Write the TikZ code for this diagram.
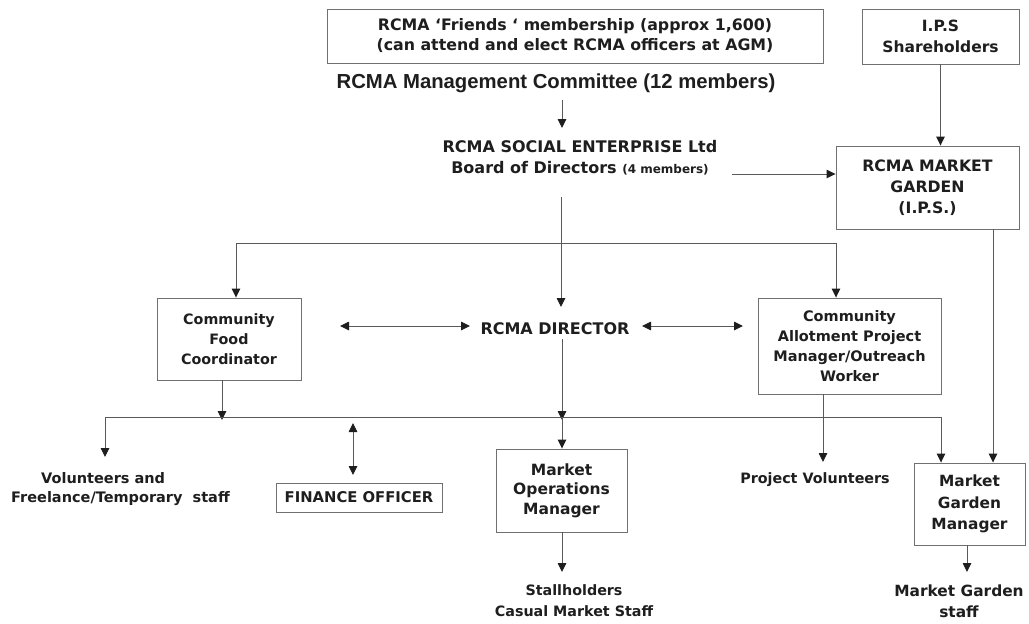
\documentclass[tikz,border=0pt]{standalone}
\usepackage{fontspec}
\setmainfont{DejaVu Sans}
\newfontfamily\arialfont{Liberation Sans}
\usetikzlibrary{arrows.meta,calc}
\definecolor{ln}{HTML}{5A5A5A}
\definecolor{bx}{HTML}{707070}
\definecolor{tx}{HTML}{1E1E1E}
\begin{document}
\begin{tikzpicture}[x=1pt,y=-1pt,
  box/.style={draw=bx,line width=0.9pt,align=center,inner sep=0pt,text=tx,font=\bfseries\fontsize{14.3}{20}\selectfont},
  lbl/.style={align=center,inner sep=0pt,text=tx,font=\bfseries\fontsize{14.3}{20}\selectfont},
  conn/.style={draw=ln,line width=0.9pt},
  tipA/.tip={Triangle[length=9pt,width=8.5pt,color=tx]},
  arr/.style={conn,-tipA},
  darr/.style={conn,tipA-tipA}]
\useasboundingbox[fill=white] (0,0) rectangle (1029,624);
% nodes
\node[box,minimum width=496pt,minimum height=54pt,font=\bfseries\fontsize{15.8}{20}\selectfont] (friends) at (575,36) {RCMA ‘Friends ‘ membership (approx 1,600)\\(can attend and elect RCMA officers at AGM)};
\node[box,minimum width=157pt,minimum height=55pt,font=\bfseries\fontsize{15.5}{21}\selectfont] (ips) at (940.5,36.5) {I.P.S\\Shareholders};
\node[lbl,font=\arialfont\bfseries\fontsize{20.3}{22}\selectfont] (mgmt) at (556,83) {RCMA Management Committee (12 members)};
\node[lbl,font=\bfseries\fontsize{16}{21}\selectfont] (board) at (580,157.5) {RCMA SOCIAL ENTERPRISE Ltd\\Board of Directors {\fontsize{12}{21}\selectfont (4 members)}};
\node[box,minimum width=183pt,minimum height=83pt,font=\bfseries\fontsize{15.7}{21}\selectfont] (mg) at (927.5,187.5) {RCMA MARKET\\GARDEN\\(I.P.S.)};
\node[box,minimum width=144pt,minimum height=82pt] (cfc) at (229,339) {Community\\Food\\Coordinator};
\node[lbl,font=\bfseries\fontsize{16}{20}\selectfont] (dir) at (555,329) {RCMA DIRECTOR};
\node[box,minimum width=183pt,minimum height=96pt,font=\bfseries\fontsize{14.5}{20}\selectfont] (cap) at (849.5,346) {Community\\Allotment Project\\Manager/Outreach\\Worker};
\node[lbl,align=left,anchor=west,font=\bfseries\fontsize{14.5}{19}\selectfont] (vol) at (11,489.5) {\hspace*{30pt}Volunteers and\\Freelance/Temporary\ \ staff};
\node[box,minimum width=166pt,minimum height=29pt,font=\bfseries\fontsize{14.8}{20}\selectfont] (fin) at (359,497.5) {FINANCE OFFICER};
\node[box,minimum width=131pt,minimum height=83pt,font=\bfseries\fontsize{15.5}{19.5}\selectfont] (mom) at (561.5,490.5) {Market\\Operations\\Manager};
\node[lbl] (pv) at (815,480) {Project Volunteers};
\node[box,minimum width=111pt,minimum height=82pt,font=\bfseries\fontsize{15.4}{21.5}\selectfont] (mgm) at (969.5,504) {Market\\Garden\\Manager};
\node[lbl,font=\bfseries\fontsize{14.3}{21}\selectfont] (stall) at (574,600.5) {Stallholders\\Casual Market Staff};
\node[lbl,font=\bfseries\fontsize{15.4}{21}\selectfont] (mgs) at (959,601.5) {Market Garden\\staff};
% junction coordinates
\coordinate (mgmtout) at (562,100);
\coordinate (boardin) at (562,128);
\coordinate (boardright) at (732,174);
\coordinate (boardout) at (561,197);
\coordinate (dirin) at (561,307);
\coordinate (bl) at (236,243);
\coordinate (br) at (836,243);
\coordinate (dlA) at (340,326);
\coordinate (dlB) at (470,326);
\coordinate (drA) at (642,326);
\coordinate (drB) at (743,326);
\coordinate (dirout) at (562,339);
\coordinate (hl) at (105,417);
\coordinate (hr) at (941,417);
\coordinate (hmid) at (562,417);
\coordinate (finA) at (353,423);
\coordinate (finB) at (353,475);
\coordinate (volin) at (105,457);
\coordinate (pvin) at (823,462);
\coordinate (stallin) at (562,572);
\coordinate (mgsin) at (967,572);
% connectors
\draw[arr] (mgmtout) -- (boardin);
\draw[arr] (boardright) -- (boardright -| mg.west);
\draw[arr] (ips.south) -- (ips.south |- mg.north);
\draw[arr] (boardout) -- (dirin);
\draw[conn] (bl) -- (br);
\draw[arr] (bl) -- (bl |- cfc.north);
\draw[arr] (br) -- (br |- cap.north);
\draw[darr] (dlA) -- (dlB);
\draw[darr] (drA) -- (drB);
\draw[arr] (dirout) -- ([yshift=-3pt]hmid);
\draw[arr] (hmid) -- (hmid |- mom.north);
\draw[arr] (cfc.south -| 222,0) -- (222,420);
\draw[conn] (hl) -- (hr);
\draw[arr] (hl) -- (volin);
\draw[arr] (hr) -- (hr |- mgm.north);
\draw[darr] (finA) -- (finB);
\draw[arr] (cap.south -| pvin) -- (pvin);
\draw[arr] (mg.south -| 993,0) -- (mgm.north -| 993,0);
\draw[arr] (mom.south -| stallin) -- (stallin);
\draw[arr] (mgm.south -| mgsin) -- (mgsin);
\end{tikzpicture}
\end{document}
